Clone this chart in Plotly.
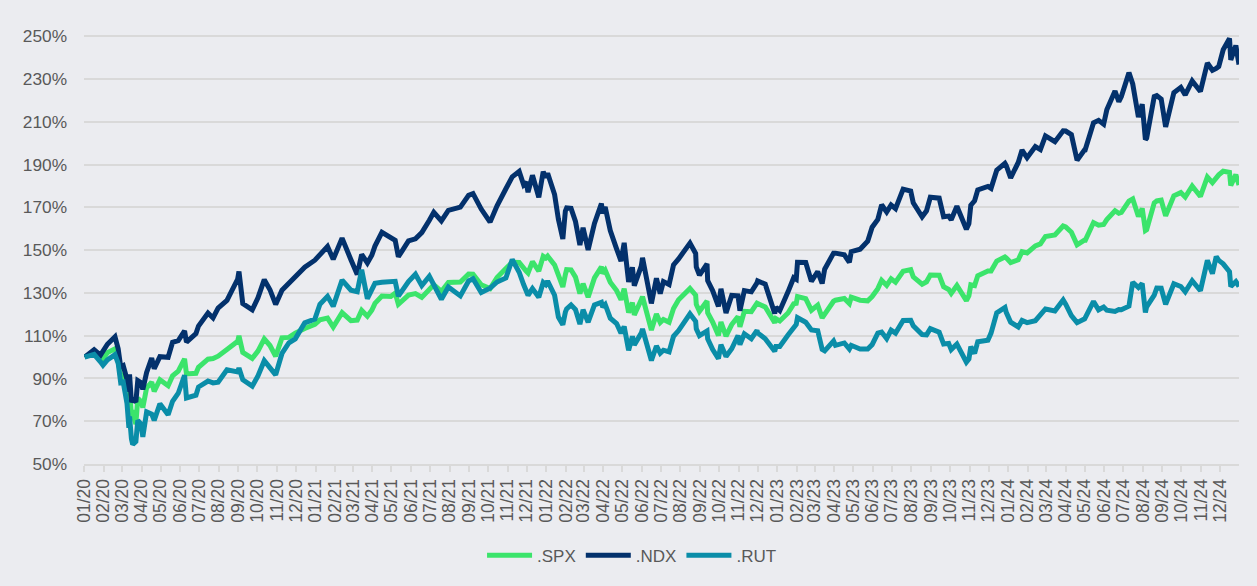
import plotly.graph_objects as go

# one row per month: dates, then the three index levels (% of 2 Jan 2020)
dates = [
    "2020-01-02","2020-01-17","2020-01-27","2020-01-31",
    "2020-02-07","2020-02-19","2020-02-24","2020-02-28",
    "2020-03-03","2020-03-09","2020-03-12","2020-03-13","2020-03-16","2020-03-18","2020-03-23","2020-03-26","2020-03-31",
    "2020-04-03","2020-04-09","2020-04-17","2020-04-21","2020-04-30",
    "2020-05-13","2020-05-20","2020-05-29",
    "2020-06-08","2020-06-11","2020-06-26","2020-06-30",
    "2020-07-15","2020-07-23","2020-07-31",
    "2020-08-14","2020-08-31",
    "2020-09-02","2020-09-08","2020-09-23",
    "2020-10-02","2020-10-12","2020-10-21","2020-10-30",
    "2020-11-09","2020-11-20","2020-11-30",
    "2020-12-15","2020-12-31",
    "2021-01-08","2021-01-20","2021-01-29",
    "2021-02-12","2021-02-26",
    "2021-03-08","2021-03-15","2021-03-24","2021-03-31",
    "2021-04-05","2021-04-16","2021-04-30",
    "2021-05-07","2021-05-12","2021-05-28",
    "2021-06-08","2021-06-18","2021-06-30",
    "2021-07-07","2021-07-19","2021-07-30",
    "2021-08-18","2021-08-31",
    "2021-09-07","2021-09-20",
    "2021-10-04","2021-10-15","2021-10-29",
    "2021-11-08","2021-11-19","2021-11-26","2021-11-30",
    "2021-12-03","2021-12-10","2021-12-20","2021-12-27","2021-12-31",
    "2022-01-03","2022-01-14","2022-01-20","2022-01-27","2022-01-31",
    "2022-02-02","2022-02-09","2022-02-16","2022-02-23","2022-02-28",
    "2022-03-08","2022-03-18","2022-03-29","2022-03-31",
    "2022-04-04","2022-04-12","2022-04-22","2022-04-29",
    "2022-05-04","2022-05-11","2022-05-17","2022-05-20","2022-05-31",
    "2022-06-02","2022-06-16","2022-06-24","2022-06-30",
    "2022-07-05","2022-07-14","2022-07-21","2022-07-29",
    "2022-08-16","2022-08-25","2022-08-26","2022-08-31",
    "2022-09-12","2022-09-13","2022-09-21","2022-09-30",
    "2022-10-04","2022-10-12","2022-10-21","2022-10-31",
    "2022-11-03","2022-11-10","2022-11-21","2022-11-30",
    "2022-12-01","2022-12-13","2022-12-28","2022-12-30",
    "2023-01-05","2023-01-18","2023-01-27","2023-01-31",
    "2023-02-02","2023-02-15","2023-02-24",
    "2023-03-06","2023-03-13","2023-03-17","2023-03-31",
    "2023-04-03","2023-04-17","2023-04-25","2023-04-28",
    "2023-05-12","2023-05-24","2023-05-31",
    "2023-06-09","2023-06-15","2023-06-23","2023-06-30",
    "2023-07-07","2023-07-19","2023-07-31",
    "2023-08-04","2023-08-18","2023-08-25","2023-08-31",
    "2023-09-14","2023-09-21","2023-09-29",
    "2023-10-03","2023-10-12","2023-10-27","2023-10-31",
    "2023-11-03","2023-11-09","2023-11-14","2023-11-30",
    "2023-12-05","2023-12-14","2023-12-27","2023-12-29",
    "2024-01-05","2024-01-17","2024-01-23","2024-01-31",
    "2024-02-13","2024-02-21","2024-02-29",
    "2024-03-15","2024-03-28",
    "2024-04-01","2024-04-10","2024-04-19","2024-04-30",
    "2024-05-01","2024-05-15","2024-05-23","2024-05-31",
    "2024-06-05","2024-06-18","2024-06-24","2024-06-28",
    "2024-07-10","2024-07-16","2024-07-25","2024-07-31",
    "2024-08-05","2024-08-07","2024-08-19","2024-08-23","2024-08-30",
    "2024-09-06","2024-09-19","2024-09-30",
    "2024-10-07","2024-10-18","2024-10-31",
    "2024-11-11","2024-11-19","2024-11-25","2024-11-29",
    "2024-12-06","2024-12-16","2024-12-18","2024-12-26","2024-12-31",
]

spx = [
    100.0,102.2,99.5,99.0,
    102.1,103.9,99.0,90.7,
    92.2,84.3,76.2,83.2,73.2,73.6,68.7,80.7,79.3,
    76.4,85.6,88.2,84.0,89.4,
    86.6,91.2,93.4,
    99.2,92.1,92.4,95.2,
    99.0,99.3,100.4,
    103.5,107.4,
    109.9,102.2,99.4,
    102.8,108.5,105.4,100.4,
    109.0,109.2,111.2,
    113.4,115.3,
    117.4,118.2,114.0,
    120.8,117.0,
    117.3,121.8,119.1,121.9,
    125.1,128.5,128.3,
    129.9,124.7,129.0,
    129.7,127.9,131.9,
    133.8,130.7,134.9,
    135.1,138.8,
    138.7,133.8,
    132.0,137.2,141.4,
    144.3,144.2,141.0,140.2,
    139.3,144.6,140.2,147.1,146.3,
    147.2,143.1,137.6,132.8,138.6,
    140.9,140.8,137.4,129.7,134.3,
    128.0,137.0,142.2,139.1,
    140.6,135.0,131.1,126.8,
    132.0,120.8,125.5,119.7,126.8,
    128.2,112.6,120.1,116.2,
    117.6,116.3,122.7,126.8,
    132.1,128.9,124.6,121.4,
    126.2,120.7,116.3,110.1,
    116.4,109.8,115.2,118.9,
    114.2,121.4,121.2,125.2,
    125.1,123.4,116.1,117.9,
    116.9,120.6,124.9,125.1,
    128.3,127.3,121.9,
    124.3,118.3,120.2,126.1,
    126.6,127.4,125.0,128.0,
    126.6,126.3,128.3,
    132.0,135.9,133.5,136.6,
    135.0,140.1,140.9,
    137.5,134.1,135.2,138.4,
    138.3,132.9,131.6,
    129.8,133.5,126.4,128.7,
    133.8,133.4,138.0,140.2,
    140.2,144.9,146.8,146.4,
    144.2,145.5,149.3,148.7,
    152.0,152.9,156.4,
    157.1,161.3,
    160.9,158.4,152.5,154.6,
    154.0,162.9,161.7,162.0,
    164.3,168.4,167.2,167.6,
    172.9,173.9,165.7,169.5,
    159.2,159.6,172.1,173.0,173.4,
    166.0,175.4,176.9,
    174.8,180.0,175.1,
    184.2,181.6,183.8,185.2,
    186.9,186.4,180.2,185.3,180.5,
]

ndx = [
    100.0,103.4,100.9,103.1,
    106.0,109.5,103.9,95.4,
    96.0,89.6,83.8,91.9,78.8,80.4,79.0,89.0,88.1,
    84.9,92.8,99.5,94.6,100.2,
    99.9,106.9,107.7,
    112.2,107.0,111.0,114.5,
    120.6,118.3,122.9,
    126.5,136.5,
    140.0,125.0,122.1,
    127.7,136.2,131.5,124.6,
    131.3,134.6,138.3,
    142.0,145.3,
    147.7,151.7,145.7,
    155.6,145.5,
    138.6,148.0,144.0,147.6,
    151.9,158.3,156.2,
    154.6,146.9,154.3,
    155.3,158.2,164.0,
    167.7,163.7,168.6,
    170.1,175.6,
    176.4,169.2,
    163.1,170.7,178.7,
    184.3,186.8,180.6,181.9,
    177.1,185.0,174.7,186.7,183.9,
    186.0,176.0,164.4,155.2,168.3,
    169.7,169.5,163.4,152.4,160.5,
    150.1,162.5,171.8,167.2,
    170.2,159.2,150.6,144.9,
    153.4,135.1,142.0,133.4,142.5,
    146.4,125.1,136.8,129.7,
    135.3,133.9,143.1,145.9,
    153.3,148.4,142.1,138.3,
    143.6,135.7,131.0,123.7,
    131.9,120.6,128.8,128.6,
    121.7,131.1,130.5,134.7,
    135.6,134.1,120.4,123.3,
    121.7,130.5,137.1,136.4,
    144.3,144.2,135.4,
    140.0,134.4,141.1,148.6,
    148.6,147.8,144.3,149.3,
    150.4,154.2,160.7,
    164.4,171.2,167.8,171.1,
    169.4,178.5,177.6,
    172.1,165.6,168.4,174.7,
    174.3,165.6,165.9,
    164.2,170.5,159.8,162.4,
    171.0,173.1,178.2,179.8,
    178.9,187.4,190.6,189.6,
    183.8,191.0,196.8,193.2,
    198.4,197.0,203.4,
    200.7,205.8,
    205.7,204.0,192.0,196.6,
    196.1,209.6,210.7,208.9,
    215.6,224.4,219.4,221.8,
    233.0,227.7,212.2,218.2,
    201.7,202.4,221.8,222.3,220.6,
    207.6,223.6,226.1,
    222.6,229.1,224.2,
    237.5,234.1,235.0,235.9,
    243.7,249.0,239.0,245.7,236.8,
]

rut = [
    100.0,101.3,97.8,96.2,
    98.7,101.1,97.1,88.0,
    88.3,78.3,66.9,72.2,61.8,59.1,60.5,70.4,68.8,
    62.7,74.4,73.3,70.4,78.2,
    73.0,79.3,83.1,
    91.5,80.9,82.2,86.0,
    88.8,87.9,88.3,
    94.1,93.1,
    94.9,89.4,86.4,
    91.2,98.3,95.4,91.7,
    101.7,106.7,108.5,
    116.0,117.8,
    124.7,128.4,123.7,
    136.0,131.3,
    130.6,140.8,127.3,132.4,
    134.5,135.0,135.2,
    135.4,128.5,135.3,
    138.7,133.4,137.8,
    133.6,127.0,132.8,
    128.6,135.6,
    136.6,130.2,
    132.2,135.1,137.0,
    145.6,139.7,133.9,131.1,
    128.9,132.0,128.0,134.9,133.9,
    135.5,128.9,118.7,115.1,121.0,
    122.5,124.4,122.2,115.4,122.1,
    116.3,124.4,125.6,123.4,
    124.6,118.2,115.7,111.2,
    114.3,103.2,109.7,105.7,111.2,
    113.1,98.4,105.2,101.8,
    103.2,102.4,109.7,112.4,
    120.2,116.7,113.2,110.0,
    112.2,108.5,103.5,99.3,
    105.8,100.3,103.9,110.1,
    105.8,110.9,108.6,112.5,
    111.3,108.6,102.7,105.0,
    105.0,110.3,114.0,115.2,
    118.4,116.3,112.7,
    112.3,103.6,102.9,107.5,
    105.5,106.6,103.8,105.5,
    103.8,103.8,105.8,
    111.2,111.7,108.6,112.6,
    111.2,117.1,117.2,
    114.6,110.5,110.4,113.3,
    111.6,106.1,106.4,
    103.5,106.1,97.6,99.1,
    104.9,101.7,107.2,107.9,
    111.2,120.7,123.2,120.9,
    116.3,114.1,117.1,116.1,
    117.0,119.9,122.5,
    121.6,126.7,
    124.7,119.4,116.1,117.7,
    117.9,126.0,122.1,123.4,
    121.9,121.3,122.2,122.1,
    123.8,135.0,132.5,134.4,
    120.9,123.5,129.0,132.3,132.2,
    124.7,134.3,133.0,
    130.5,135.7,131.0,
    145.2,139.0,147.0,145.2,
    143.6,139.9,133.0,135.3,133.0,
]

assert len(dates) == len(spx) == len(ndx) == len(rut)

series_names = [".SPX", ".NDX", ".RUT"]
series_values = [spx, ndx, rut]
series_colors = ["#3BE46B", "#03316C", "#0A8DA8"]

BG = "#EBECF0"
GRID = "#D9D9D9"
TXT = "#595959"
FONT = "Liberation Sans, Arial, sans-serif"

fig = go.Figure()
for name, vals, col in zip(series_names, series_values, series_colors):
    fig.add_trace(go.Scatter(
        x=dates, y=vals, name=name, mode="lines",
        line=dict(color=col, width=5),
    ))

fig.update_layout(
    width=1257, height=586,
    paper_bgcolor=BG, plot_bgcolor=BG,
    margin=dict(l=84, r=18, t=32, b=120),
    font=dict(family=FONT, color=TXT, size=17),
    showlegend=True,
    legend=dict(
        orientation="h", x=0.4745, xanchor="center", y=-0.212, yanchor="middle",
        font=dict(size=17, color=TXT), itemwidth=45, bgcolor="rgba(0,0,0,0)",
    ),
    hovermode=False,
)
fig.update_xaxes(
    type="date", range=["2020-01-01", "2024-12-31"],
    tick0="2020-01-01", dtick="M1", tickformat="%m/%y", tickangle=-90,
    showgrid=False, showline=True, linecolor=GRID, linewidth=2,
    ticks="outside", ticklen=6, tickwidth=1.5, tickcolor=GRID,
    tickfont=dict(size=17.5, color=TXT, family=FONT),
    zeroline=False,
)
fig.update_yaxes(
    range=[50, 252], tick0=50, dtick=20, ticksuffix="%",
    showgrid=True, gridcolor=GRID, gridwidth=2,
    zeroline=False, showline=False,
    tickfont=dict(size=17.3, color=TXT, family=FONT),
    ticklabelstandoff=16,
)

fig.write_html(
    "out.html",
    config={"displayModeBar": False},
    post_script="document.body.style.margin='0px';document.body.style.background='#EBECF0';",
)
